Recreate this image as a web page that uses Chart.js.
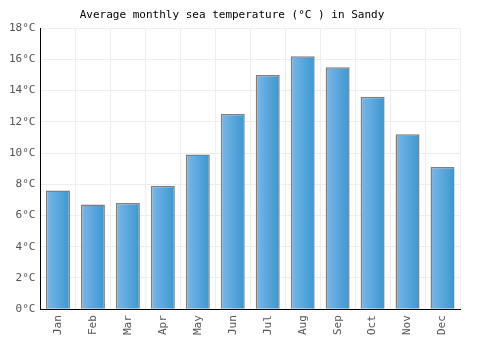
<!DOCTYPE html>
<html>
<head>
<meta charset="utf-8">
<script src="https://cdn.jsdelivr.net/npm/chart.js@4"></script>
<style>
  body { margin: 0; background: #fff; }
  #wrap { width: 500px; height: 350px; }
</style>
</head>
<body>
<div id="wrap"><canvas id="chart"></canvas></div>
<script>
const months = ['Jan', 'Feb', 'Mar', 'Apr', 'May', 'Jun', 'Jul', 'Aug', 'Sep', 'Oct', 'Nov', 'Dec'];
const seaTemp = [7.6, 6.7, 6.8, 7.9, 9.9, 12.5, 15.0, 16.2, 15.5, 13.6, 11.2, 9.1];
const yTicks = [0, 2, 4, 6, 8, 10, 12, 14, 16, 18];

const monoFont = '"DejaVu Sans Mono", "Liberation Mono", monospace';

// gradient per bar, left light to right darker
function barFill(ctx) {
  const chart = ctx.chart;
  const xs = chart.scales && chart.scales.x;
  if (!chart.chartArea || !xs) return '#55a6de';
  const cx = xs.getPixelForValue(ctx.dataIndex);
  const half = 12;
  const g = chart.ctx.createLinearGradient(cx - half, 0, cx + half, 0);
  g.addColorStop(0, '#7ab8ea');
  g.addColorStop(1, '#3a97cf');
  return g;
}

new Chart(document.getElementById('chart'), {
  type: 'bar',
  data: {
    labels: months,
    datasets: [{
      data: seaTemp,
      backgroundColor: barFill,
      borderColor: '#7f7f7f',
      borderWidth: 1.5,
      barPercentage: 0.7,
      categoryPercentage: 0.98
    }]
  },
  options: {
    responsive: true,
    maintainAspectRatio: false,
    animation: false,
    layout: { padding: { left: 4, right: 40, top: 5, bottom: 9 } },
    plugins: {
      legend: { display: false },
      tooltip: { enabled: false },
      title: {
        display: true,
        text: 'Average monthly sea temperature (°C ) in Sandy',
        color: '#000',
        font: { family: monoFont, size: 11, weight: 'normal' },
        padding: { top: 4, bottom: 6 }
      }
    },
    scales: {
      x: {
        grid: { color: '#eeeeee', offset: true, drawTicks: false },
        border: { color: '#000', width: 1 },
        ticks: {
          color: '#555',
          font: { family: monoFont, size: 11 },
          maxRotation: 90,
          minRotation: 90,
          padding: 6
        }
      },
      y: {
        min: 0,
        max: 18,
        afterBuildTicks: axis => { axis.ticks = yTicks.map(v => ({ value: v })); },
        grid: { color: '#eeeeee', drawTicks: false },
        border: { color: '#000', width: 1 },
        ticks: {
          color: '#555',
          font: { family: monoFont, size: 11 },
          padding: 5,
          callback: v => v + '°C'
        }
      }
    }
  }
});
</script>
</body>
</html>
